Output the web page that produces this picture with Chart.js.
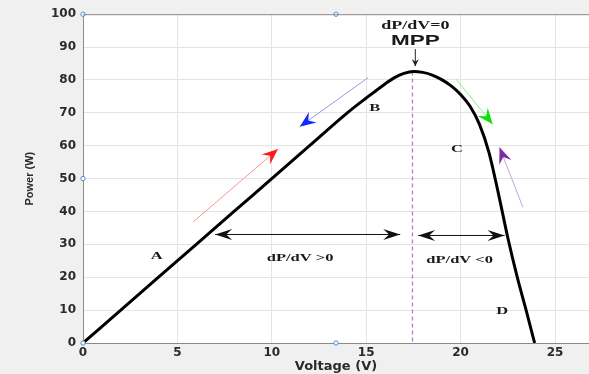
<!DOCTYPE html>
<html>
<head>
<meta charset="utf-8">
<script src="https://cdn.jsdelivr.net/npm/chart.js@4.4.0/dist/chart.umd.min.js"></script>
<style>
  html, body { margin: 0; padding: 0; background: #f0f0f0; }
  #wrap { width: 589px; height: 374px; }
</style>
</head>
<body>
<div id="wrap"><canvas id="pvChart"></canvas></div>
<script>
// P-V curve
const voltage = [0, 2, 4, 6, 8, 10, 12, 14, 15, 16, 16.5, 17, 17.5, 18, 18.5, 19, 19.5, 20, 20.5, 21, 21.5, 22, 22.5, 23, 23.5, 23.92];
const power   = [0, 10, 20, 30, 40, 50, 60, 70, 74.5, 78.8, 80.7, 82, 82.6, 82.3, 81.5, 80.1, 78.2, 75.6, 72, 66.5, 58, 45.5, 32, 20, 9.3, 0];

// maximum power point
const mppVoltage = 17.45;
const mppPower = 82.6;

// little blue selection handles of the figure
const handleV = [0, 0, 0, 13.4, 13.4];
const handleP = [0, 50, 100, 100, 0];

const xTickValues = [0, 5, 10, 15, 20, 25];
const xMax = 26.8;
const yMax = 100;

// annotations, in data units
const notes = [
  { text: 'dP/dV=0', v: 17.6, p: 96.3, font: 'bold 12px "Liberation Serif"' },
  { text: 'MPP', v: 17.6, p: 91.8, font: 'bold 15px "Liberation Sans"' },
  { text: 'A', v: 3.9, p: 26.4 },
  { text: 'B', v: 15.45, p: 71.5 },
  { text: 'C', v: 19.8, p: 59 },
  { text: 'D', v: 22.2, p: 9.7 },
  { text: 'dP/dV >0', v: 11.5, p: 25.8 },
  { text: 'dP/dV <0', v: 19.95, p: 25.2 }
];

const arrows = [
  // direction arrows along the curve
  { from: [5.83, 36.8], to: [10.33, 59.0], line: '#f29a9a', head: '#ff1a1a', len: 16, half: 6.5 },
  { from: [15.1, 80.7], to: [11.48, 65.8], line: '#9a9ae6', head: '#1428ff', len: 16, half: 6.5 },
  { from: [19.77, 80.2], to: [21.7, 66.5], line: '#8ef08e', head: '#10e010', len: 16, half: 6.5 },
  { from: [23.3, 41.3], to: [22.06, 59.5], line: '#c8a6d8', head: '#7d2fa0', len: 16, half: 6.5 },
  // MPP pointer
  { from: [17.6, 89.4], to: [17.6, 84.2], line: '#222', head: '#222', len: 7, half: 3.5 }
];

const doubleArrows = [
  { from: [7.0, 33], to: [16.8, 33] },
  { from: [17.75, 32.7], to: [22.33, 32.7] }
];

function head(ctx, x1, y1, x2, y2, len, half, color) {
  const a = Math.atan2(y2 - y1, x2 - x1);
  ctx.save();
  ctx.translate(x2, y2);
  ctx.rotate(a);
  ctx.beginPath();
  ctx.moveTo(0, 0);
  ctx.lineTo(-len, -half);
  ctx.lineTo(-len * 0.65, 0);
  ctx.lineTo(-len, half);
  ctx.closePath();
  ctx.fillStyle = color;
  ctx.fill();
  ctx.restore();
}

const pvNotes = {
  id: 'pvNotes',
  beforeDraw(chart) {
    const { ctx, chartArea: a } = chart;
    ctx.save();
    ctx.fillStyle = '#ffffff';
    ctx.fillRect(a.left, a.top, a.right - a.left, a.bottom - a.top);
    ctx.restore();
  },
  afterDatasetsDraw(chart) {
    const { ctx, scales: { x, y } } = chart;
    const px = v => x.getPixelForValue(v);
    const py = p => y.getPixelForValue(p);
    ctx.save();

    arrows.forEach(ar => {
      const x1 = px(ar.from[0]), y1 = py(ar.from[1]);
      const x2 = px(ar.to[0]), y2 = py(ar.to[1]);
      ctx.strokeStyle = ar.line;
      ctx.lineWidth = 1;
      ctx.beginPath();
      ctx.moveTo(x1, y1);
      ctx.lineTo(x2, y2);
      ctx.stroke();
      head(ctx, x1, y1, x2, y2, ar.len, ar.half, ar.head);
    });

    doubleArrows.forEach(ar => {
      const x1 = px(ar.from[0]), y1 = py(ar.from[1]);
      const x2 = px(ar.to[0]), y2 = py(ar.to[1]);
      ctx.strokeStyle = '#111';
      ctx.lineWidth = 1;
      ctx.beginPath();
      ctx.moveTo(x1, y1);
      ctx.lineTo(x2, y2);
      ctx.stroke();
      head(ctx, x1, y1, x2, y2, 17, 5.5, '#111');
      head(ctx, x2, y2, x1, y1, 17, 5.5, '#111');
    });

    ctx.fillStyle = '#1a1a1a';
    ctx.textAlign = 'center';
    ctx.textBaseline = 'middle';
    notes.forEach(n => {
      ctx.save();
      ctx.translate(px(n.v), py(n.p));
      ctx.scale(1.5, 1);
      ctx.font = n.font || 'bold 11px "Liberation Serif"';
      ctx.fillText(n.text, 0, 0);
      ctx.restore();
    });
    ctx.restore();
  },
  afterDraw(chart) {
    const { ctx, chartArea: a } = chart;
    ctx.save();
    ctx.strokeStyle = '#8a8a8a';
    ctx.lineWidth = 1;
    ctx.beginPath();
    ctx.moveTo(a.left, a.top + 0.5);
    ctx.lineTo(a.right, a.top + 0.5);
    ctx.stroke();
    ctx.restore();
  }
};

const tickFont = { family: '"DejaVu Sans"', size: 12, weight: 'bold' };

new Chart(document.getElementById('pvChart'), {
  type: 'scatter',
  data: {
    datasets: [
      {
        label: 'P-V',
        data: voltage.map((v, i) => ({ x: v, y: power[i] })),
        showLine: true,
        borderColor: '#000',
        borderWidth: 3,
        pointRadius: 0,
        cubicInterpolationMode: 'monotone',
        order: 1
      },
      {
        label: 'MPP line',
        data: [{ x: mppVoltage, y: mppPower }, { x: mppVoltage, y: 0 }],
        showLine: true,
        borderColor: '#b878d8',
        borderWidth: 1.3,
        borderDash: [4, 3],
        pointRadius: 0,
        order: 2
      },
      {
        label: 'handles',
        data: handleV.map((v, i) => ({ x: v, y: handleP[i] })),
        showLine: false,
        pointRadius: 2.2,
        pointBorderWidth: 1,
        pointBorderColor: '#4a8fd0',
        pointBackgroundColor: '#ffffff',
        clip: false,
        order: 0
      }
    ]
  },
  options: {
    responsive: true,
    maintainAspectRatio: false,
    animation: false,
    events: [],
    layout: { autoPadding: false, padding: { top: 13, right: 0, bottom: 0, left: 0 } },
    plugins: { legend: { display: false }, tooltip: { enabled: false } },
    scales: {
      x: {
        type: 'linear',
        min: 0,
        max: xMax,
        afterBuildTicks: s => { s.ticks = xTickValues.map(v => ({ value: v })); },
        afterFit: s => { s.height = 31; s.paddingRight = 0; },
        grid: { color: '#e4e4e4', drawTicks: false },
        border: { color: '#8a8a8a' },
        ticks: { padding: 3, color: '#2a2a2a', font: tickFont, maxRotation: 0 },
        title: {
          display: true,
          text: 'Voltage (V)',
          color: '#2a2a2a',
          font: { family: '"DejaVu Sans"', size: 13, weight: 'bold' },
          padding: { top: 0, bottom: 0 }
        }
      },
      y: {
        min: 0,
        max: yMax,
        afterFit: s => { s.width = 83; },
        grid: { color: '#e4e4e4', drawTicks: false },
        border: { color: '#8a8a8a' },
        ticks: { stepSize: 10, padding: 7, color: '#2a2a2a', font: tickFont },
        title: {
          display: true,
          text: 'Power (W)',
          color: '#2a2a2a',
          font: { family: '"Liberation Sans"', size: 11, weight: 'bold' },
          padding: { top: 23, bottom: 0 }
        }
      }
    }
  },
  plugins: [pvNotes]
});
</script>
</body>
</html>
